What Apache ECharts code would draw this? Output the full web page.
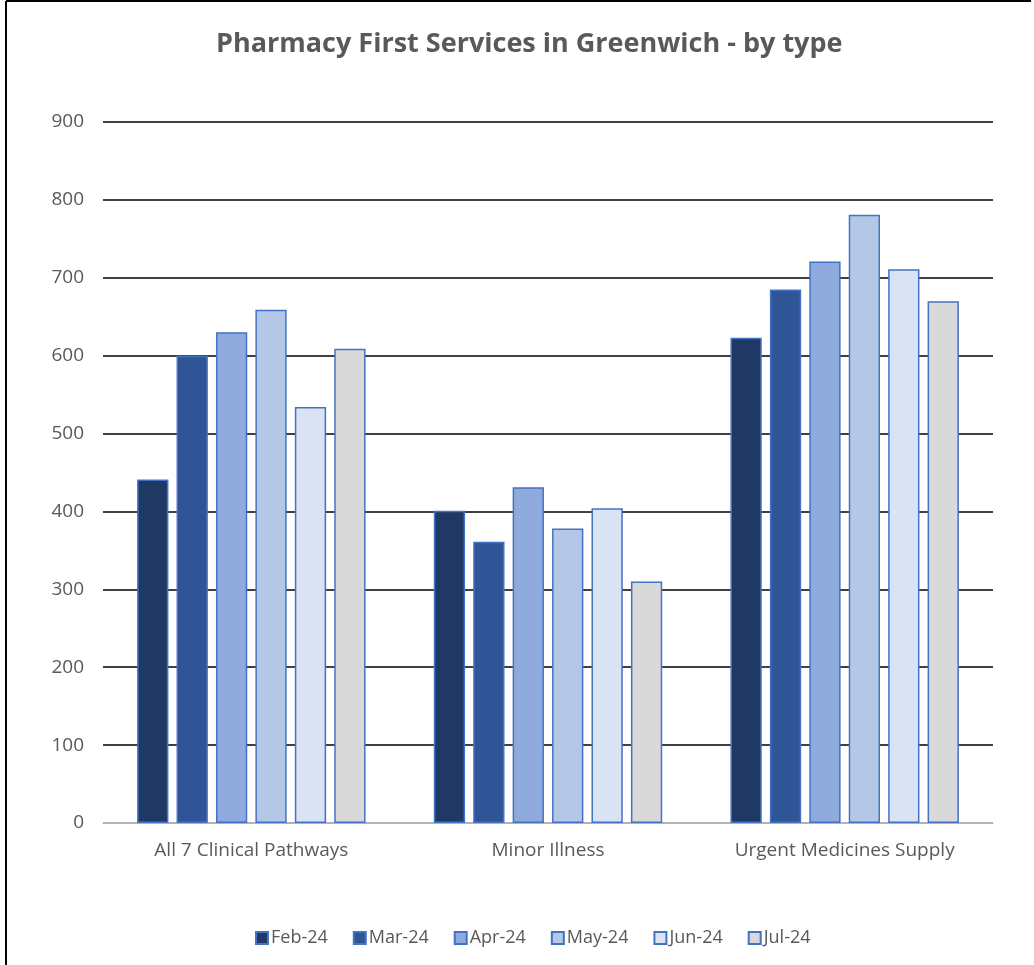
<!DOCTYPE html>
<html>
<head>
<meta charset="utf-8">
<title>Pharmacy First Services in Greenwich</title>
<script src="https://cdn.jsdelivr.net/npm/echarts@6/dist/echarts.min.js"></script>
<style>
  html, body { margin: 0; padding: 0; background: #fff; }
  #chart { width: 1034px; height: 965px; }
</style>
</head>
<body>
<div id="chart"></div>
<script>
// chart data
const categories = ['All 7 Clinical Pathways', 'Minor Illness', 'Urgent Medicines Supply'];
const months = ['Feb-24', 'Mar-24', 'Apr-24', 'May-24', 'Jun-24', 'Jul-24'];
const feb24 = [441, 401, 623];
const mar24 = [600, 361, 685];
const apr24 = [630, 431, 721];
const may24 = [659, 378, 781];
const jun24 = [534, 404, 711];
const jul24 = [609, 310, 670];
const yTicks = [0, 100, 200, 300, 400, 500, 600, 700, 800, 900];

const seriesValues = [feb24, mar24, apr24, may24, jun24, jul24];
const colors = ['#203864', '#2f5597', '#8faadc', '#b4c7e7', '#dae3f3', '#d9d9d9'];
const textColor = '#595959';
const font = 'Open Sans';

const chart = echarts.init(document.getElementById('chart'));

const option = {
  animation: false,
  title: {
    text: 'Pharmacy First Services in Greenwich - by type',
    left: 211,
    top: 26,
    textStyle: {
      fontFamily: font,
      fontSize: 27,
      fontWeight: 'bold',
      color: textColor
    }
  },
  legend: {
    bottom: 13,
    left: 250,
    icon: 'rect',
    itemWidth: 12,
    itemHeight: 12,
    itemGap: 25,
    textStyle: { fontFamily: font, fontSize: 18, color: textColor, padding: [0, 0, 0, -2] },
    data: months
  },
  grid: {
    left: 103,
    right: 41,
    top: 122,
    bottom: 142
  },
  xAxis: {
    type: 'category',
    data: categories,
    axisLine: { lineStyle: { color: '#d9d9d9', width: 1.5 } },
    axisTick: { show: false },
    axisLabel: { fontFamily: font, fontSize: 19, color: textColor, margin: 18 }
  },
  yAxis: {
    type: 'value',
    min: yTicks[0],
    max: yTicks[yTicks.length - 1],
    interval: 100,
    axisLine: { show: false },
    axisTick: { show: false },
    axisLabel: { fontFamily: font, fontSize: 19, color: textColor, margin: 19 },
    splitLine: { lineStyle: { color: '#000', width: 1.5 } }
  },
  series: months.map((m, i) => ({
    name: m,
    type: 'bar',
    data: seriesValues[i],
    barGap: '26%',
    barCategoryGap: '23%',
    itemStyle: {
      color: colors[i],
      borderColor: '#4472c4',
      borderWidth: 1.5
    }
  })),
  graphic: [
    {
      type: 'line',
      shape: { x1: 6, y1: 1, x2: 6, y2: 965 },
      style: { stroke: '#000', lineWidth: 2 }
    },
    {
      type: 'line',
      shape: { x1: 6, y1: 1, x2: 1031, y2: 1 },
      style: { stroke: '#000', lineWidth: 2 }
    }
  ]
};

chart.setOption(option);
</script>
</body>
</html>
